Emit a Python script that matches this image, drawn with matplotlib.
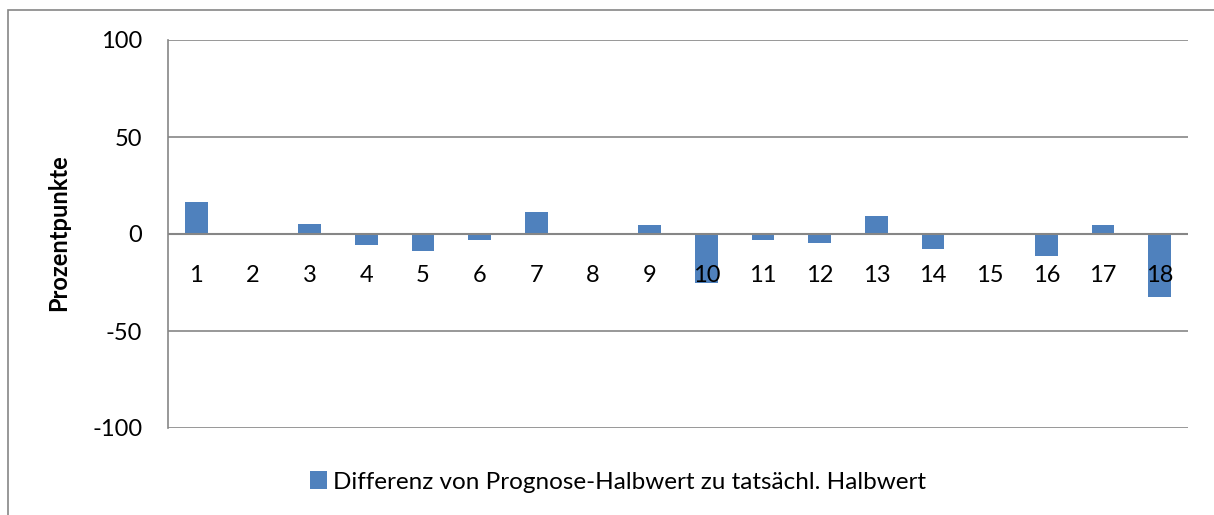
import matplotlib.pyplot as plt
from matplotlib.patches import Rectangle

# Differenz von Prognose-Halbwert zu tatsaechl. Halbwert (Prozentpunkte)
categories = [str(i) for i in range(1, 19)]
values = [16.5, 0, 5.2, -5.8, -8.8, -3.3, 11.5, 0, 4.7,
          -25.3, -3.1, -4.8, 9.4, -7.7, 0, -11.4, 4.7, -32.3]
series_name = "Differenz von Prognose-Halbwert zu tatsächl. Halbwert"
y_label = "Prozentpunkte"
y_ticks = [-100, -50, 0, 50, 100]

plt.rcParams['font.family'] = ['Lato', 'DejaVu Sans']

fig = plt.figure(figsize=(12.14, 5.15), dpi=100)
W, H = 1214, 515
ax = fig.add_axes([168 / W, 1 - 428 / H, (1188 - 168) / W, (428 - 40) / H])

x = list(range(1, len(values) + 1))
bars = ax.bar(x, values, width=0.4, color="#4F81BD", zorder=2, label=series_name)

ax.set_xlim(0.5, 18.5)
ax.set_ylim(-100, 100)
ax.set_yticks(y_ticks)
ax.set_yticklabels([str(t) for t in y_ticks], fontsize=17)
ax.tick_params(axis='y', length=0, pad=18.5)
ax.set_xticks([])
ax.grid(axis='y', color="#868686", linewidth=1.2, zorder=0)
ax.axhline(0, color="#868686", linewidth=1.5, zorder=3)

for s in ['top', 'right', 'bottom']:
  ax.spines[s].set_visible(False)
ax.spines['left'].set_color("#868686")
ax.spines['left'].set_linewidth(1.2)

# category labels sit below the zero line, drawn over the bars
for xi, lab in zip(x, categories):
  ax.text(xi, -21.5, lab, ha='center', va='center', fontsize=17, zorder=4)

fig.text(59 / W, 1 - 233 / H, y_label, rotation=90, ha='center', va='center',
         fontsize=17, fontweight='bold')

fig.legend(handles=[bars], labels=[series_name], loc='center',
           bbox_to_anchor=(618 / W, 1 - 482 / H), frameon=False, fontsize=17.5,
           handlelength=0.7, handleheight=0.7, handletextpad=0.25)

# outer chart border (right and bottom edges fall outside the image)
fig.patches.append(Rectangle((8 / W, -0.1), 1.2, 1.1 - 10 / H,
                             transform=fig.transFigure, fill=False,
                             edgecolor="#868686", linewidth=1.2))

fig.savefig("out.png", dpi=100)
